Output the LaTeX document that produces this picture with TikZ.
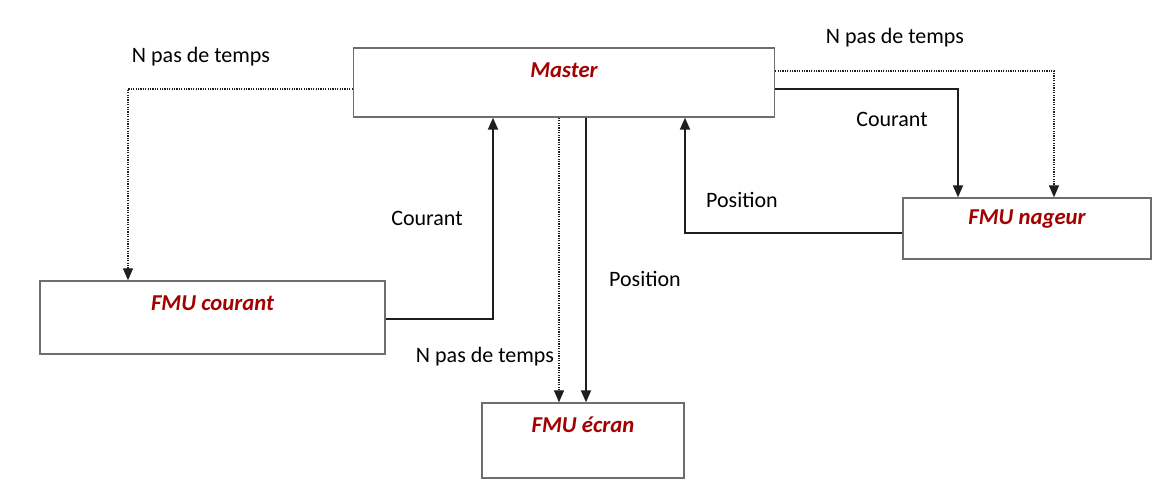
\documentclass[tikz,border=0pt]{standalone}
\usepackage{fontspec}
\setmainfont{Carlito}
\usetikzlibrary{arrows.meta}
\definecolor{boxred}{RGB}{163,0,0}
\definecolor{boxgray}{RGB}{110,110,110}
\definecolor{linegray}{RGB}{30,30,30}
\begin{document}
\begin{tikzpicture}[x=1pt,y=-1pt,
  fmubox/.style={draw=boxgray,line width=1.4pt,rectangle,inner sep=0pt},
  boxlabel/.style={text=boxred,font=\fontsize{22.7}{27}\selectfont\bfseries\itshape,inner sep=0pt},
  lbl/.style={font=\fontsize{22}{26}\selectfont,inner sep=0pt},
  tip/.style={-{Triangle[width=10pt,length=12pt]}},
  solidc/.style={tip,draw=linegray,line width=1.8pt},
  dotc/.style={tip,draw=linegray,line width=1.3pt,dash pattern=on 1.2pt off 1.2pt}]
\useasboundingbox (0,0) rectangle (1168,483);
\fill[white] (0,0) rectangle (1168,483);
% boxes
\node[fmubox,minimum width=421pt,minimum height=69pt] (m) at (564,82.5) {};
\node[fmubox,minimum width=345pt,minimum height=73pt] (c) at (212.5,317.5) {};
\node[fmubox,minimum width=202pt,minimum height=75pt] (e) at (583,440.5) {};
\node[fmubox,minimum width=248pt,minimum height=61pt] (n) at (1027,228.5) {};
\node[boxlabel] (mt) at ([yshift=-23pt]m.north) {Master};
\node[boxlabel] (ct) at ([yshift=-23pt]c.north) {FMU courant};
\node[boxlabel] (et) at ([yshift=-22pt]e.north) {FMU écran};
\node[boxlabel] (nt) at ([yshift=-22pt]n.north) {FMU nageur};
% connector anchors
\coordinate (mL) at (m.west |- 0,89);
\coordinate (mR1) at (m.east |- 0,71);
\coordinate (mR2) at (m.east |- 0,89);
% Master -> FMU courant (dotted)
\draw[dotc] (mL) -| (c.north -| 128,0);
% FMU courant -> Master (solid)
\draw[solidc] (c.east |- 0,319) -| (m.south -| 493,0);
% Master -> FMU ecran
\draw[dotc] (m.south -| 559,0) -- (e.north -| 559,0);
\draw[solidc] (m.south -| 586,0) -- (e.north -| 586,0);
% Master -> FMU nageur
\draw[solidc] (mR2) -| (n.north -| 958,0);
\draw[dotc] (mR1) -| (n.north -| 1054,0);
% FMU nageur -> Master
\draw[solidc] (n.west |- 0,233) -| (m.south -| 685,0);
% labels
\node[lbl] (l1) at (201,57) {N pas de temps};
\node[lbl] (l2) at (895,38) {N pas de temps};
\node[lbl] (l3) at (892,119) {Courant};
\node[lbl] (l4) at (742,200) {Position};
\node[lbl] (l5) at (427,218) {Courant};
\node[lbl] (l6) at (645,279) {Position};
\node[lbl] (l7) at (485,357) {N pas de temps};
\end{tikzpicture}
\end{document}
